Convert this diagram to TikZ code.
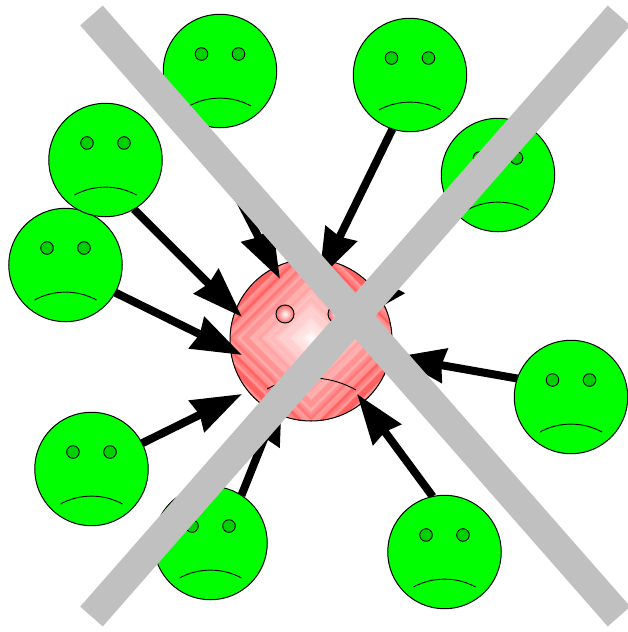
\documentclass[tikz,border=0pt]{standalone}
\usetikzlibrary{arrows.meta}
\pgfdeclarelayer{under}
\pgfsetlayers{under,main}
\definecolor{facegreen}{HTML}{00FF00}
\definecolor{eyegreen}{HTML}{00D200}
\definecolor{crossgray}{HTML}{C0C0C0}
\tikzset{
  face/.style={circle,draw=black,fill=facegreen,line width=1pt,minimum size=113.5pt,inner sep=0pt,outer sep=0pt},
  eye/.style={draw=black,fill=eyegreen,line width=.9pt},
  mouth/.style={draw=black,line width=.9pt},
  hug/.style={line width=8pt,draw=black,-{Stealth[length=50pt,width=34pt,inset=3pt]}},
  crossbar/.style={draw=crossgray,line width=30pt}
}
\newcommand{\sadface}[3]{%
  \node[face] (#1) at (#2,#3) {};
  \begin{scope}[shift={(#2,#3)}]
    \path[eye] (-18.5,-17) circle[radius=6.3pt];
    \path[eye] (18.5,-17) circle[radius=6.3pt];
    \path[mouth] (-31,35) .. controls (-12,24.5) and (12,24.5) .. (31,35);
  \end{scope}}
\begin{document}
\begin{tikzpicture}[x=1pt,y=-1pt]
\useasboundingbox (0,0) rectangle (628,632);
% sad faces
\sadface{f5}{65.5}{265}
\sadface{f1}{220}{71}
\sadface{f2}{410}{75}
\sadface{f3}{105.5}{160}
\sadface{f4}{498}{175}
\sadface{f6}{571}{397}
\sadface{f7}{91.5}{469}
\sadface{f8}{210.5}{543}
\sadface{f9}{444.5}{552}
\begin{pgfonlayer}{under}
  \fill[white] (0,0) rectangle (628,632);
  % central face
  \begin{scope}
    \clip (311,340) circle[radius=81pt];
    \foreach \d in {118,117,...,1}{
      \pgfmathsetmacro{\w}{min(1,\d/112)}
      \pgfmathsetmacro{\g}{max(0.38,min(1,1-0.58*pow(\w,0.8)+(0.01+0.13*\w*\w)*(sin(\d*26)+0.4*sin(\d*61))))}
      \definecolor{bandc}{rgb}{1,\g,\g}
      \fill[bandc] (311-\d,338) -- (311,338-\d) -- (311+\d,338) -- (311,338+\d) -- cycle;
    }
  \end{scope}
  \node[circle,draw=black,line width=1pt,minimum size=162pt,inner sep=0pt,outer sep=0pt] (c) at (311,340) {};
  \shade[inner color=white,outer color=red!60,draw=black,line width=1pt] (285,314) circle[radius=9pt];
  \shade[inner color=white,outer color=red!60,draw=black,line width=1pt] (337,314) circle[radius=9pt];
  \path[mouth] (267,389) .. controls (294,374) and (328,374) .. (356,390);
  % arrow ends
  \coordinate (t1) at (280,279);
  \coordinate (t2) at (319,279);
  \coordinate (t3) at (242,317);
  \coordinate (t4) at (358,320);
  \coordinate (t5) at (242,355);
  \coordinate (t6) at (395,357);
  \coordinate (t7) at (242,394);
  \coordinate (t8) at (282,394);
  \coordinate (t9) at (357,394);
  \draw[hug] (f1.-110) -- (t1);
  \draw[hug] (f2.-108) -- (t2);
  \draw[hug] (f3.-60) -- (t3);
  \draw[hug] (f4.-142) -- (t4);
  \draw[hug] (f5.-29) -- (t5);
  \draw[hug] (f6.161) -- (t6);
  \draw[hug] (f7.27) -- (t7);
  \draw[hug] (f8.57) -- (t8);
  \draw[hug] (f9.102) -- (t9);
\end{pgfonlayer}
% crossing-out bars
\coordinate (xa) at (91.5,15.5);
\coordinate (xb) at (619,616.5);
\coordinate (xc) at (619,15.5);
\coordinate (xd) at (91.5,616.5);
\draw[crossbar] (xa) -- (xb);
\draw[crossbar] (xc) -- (xd);
\end{tikzpicture}
\end{document}
